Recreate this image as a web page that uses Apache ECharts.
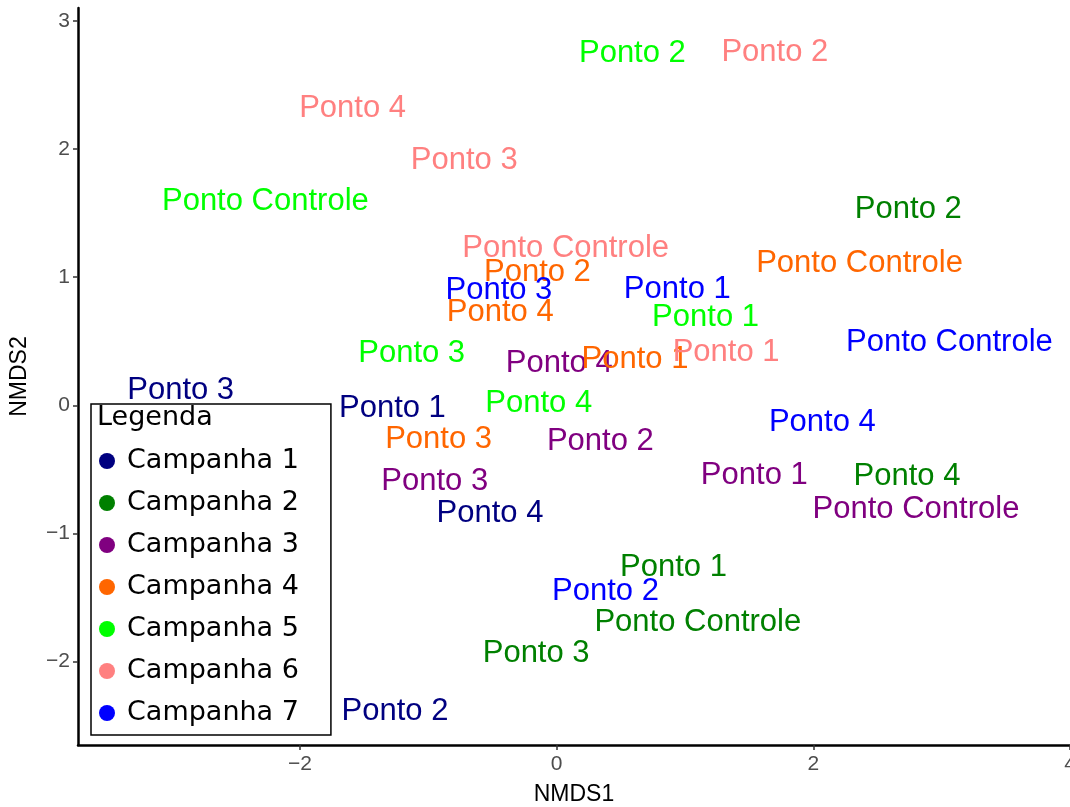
<!DOCTYPE html>
<html>
<head>
<meta charset="utf-8">
<script src="https://cdn.jsdelivr.net/npm/echarts@6/dist/echarts.min.js"></script>
<style>
  html, body { margin: 0; padding: 0; background: #fff; }
  #chart { width: 1070px; height: 807px; }
</style>
</head>
<body>
<div id="chart"></div>
<script>
// NMDS scores, one small list per campaign: [label, NMDS1, NMDS2]
var campanhas = ['Campanha 1', 'Campanha 2', 'Campanha 3', 'Campanha 4', 'Campanha 5', 'Campanha 6', 'Campanha 7'];
var cores = ['#000080', '#008000', '#800080', '#FF6600', '#00FF00', '#FF8080', '#0000FF'];

var camp1 = [['Ponto 3', -2.93, 0.13], ['Ponto 1', -1.28, -0.01], ['Ponto 4', -0.52, -0.83], ['Ponto 2', -1.26, -2.37]];
var camp2 = [['Ponto 2', 2.74, 1.54], ['Ponto 4', 2.73, -0.54], ['Ponto 1', 0.91, -1.25], ['Ponto Controle', 1.10, -1.68], ['Ponto 3', -0.16, -1.92]];
var camp3 = [['Ponto 4', 0.02, 0.34], ['Ponto 2', 0.34, -0.27], ['Ponto 1', 1.54, -0.53], ['Ponto Controle', 2.80, -0.80], ['Ponto 3', -0.95, -0.58]];
var camp4 = [['Ponto 2', -0.15, 1.05], ['Ponto 4', -0.44, 0.74], ['Ponto 1', 0.61, 0.37], ['Ponto Controle', 2.36, 1.12], ['Ponto 3', -0.92, -0.25]];
var camp5 = [['Ponto 2', 0.59, 2.76], ['Ponto Controle', -2.27, 1.61], ['Ponto 3', -1.13, 0.42], ['Ponto 1', 1.16, 0.70], ['Ponto 4', -0.14, 0.03]];
var camp6 = [['Ponto 2', 1.70, 2.77], ['Ponto 4', -1.59, 2.33], ['Ponto 3', -0.72, 1.93], ['Ponto Controle', 0.07, 1.24], ['Ponto 1', 1.32, 0.43]];
var camp7 = [['Ponto 3', -0.45, 0.91], ['Ponto 1', 0.94, 0.92], ['Ponto Controle', 3.06, 0.51], ['Ponto 4', 2.07, -0.12], ['Ponto 2', 0.38, -1.44]];

var xTicks = [-2, 0, 2, 4];
var yTicks = [-2, -1, 0, 1, 2, 3];

var pontos = [camp1, camp2, camp3, camp4, camp5, camp6, camp7];

var chart = echarts.init(document.getElementById('chart'));

var series = campanhas.map(function (nome, i) {
    return {
        name: nome,
        type: 'scatter',
        symbolSize: 0,
        itemStyle: { color: cores[i], opacity: 1 },
        label: {
            show: true,
            position: 'inside',
            offset: [0, 2],
            formatter: '{b}',
            color: cores[i],
            fontSize: 31,
            fontFamily: 'Liberation Sans, Arial, sans-serif'
        },
        emphasis: { disabled: true },
        data: pontos[i].map(function (p) { return { name: p[0], value: [p[1], p[2]] }; })
    };
});

var tickFmt = function (v) { return String(v).replace('-', '\u2212'); };

chart.setOption({
    animation: false,
    title: {
        text: 'Legenda',
        left: 97,
        top: 404,
        padding: 0,
        z: 20,
        textStyle: { fontSize: 27, fontWeight: 'normal', color: '#000', fontFamily: 'DejaVu Sans, sans-serif' }
    },
    legend: {
        orient: 'vertical',
        left: 91,
        top: 404,
        padding: [42, 32, 7, 8],
        itemGap: 12,
        itemWidth: 16,
        itemHeight: 16,
        icon: 'circle',
        backgroundColor: '#fff',
        borderColor: '#000',
        borderWidth: 1.5,
        borderRadius: 0,
        selectedMode: false,
        z: 10,
        textStyle: {
            fontSize: 27,
            lineHeight: 30,
            color: '#000',
            padding: [0, 0, 0, 7],
            fontFamily: 'DejaVu Sans, sans-serif'
        },
        data: campanhas.map(function (c, i) { return { name: c, itemStyle: { color: cores[i], opacity: 1 } }; })
    },
    grid: { left: 78, right: 0, top: 8, bottom: 62, containLabel: false, outerBoundsMode: 'none' },
    xAxis: {
        type: 'value',
        min: -3.73,
        max: 4.0,
        name: 'NMDS1',
        nameLocation: 'middle',
        nameGap: 38,
        nameTextStyle: { fontSize: 23, color: '#000', fontFamily: 'Liberation Sans, Arial, sans-serif' },
        splitLine: { show: false },
        axisLine: { show: true, onZero: false, lineStyle: { color: '#000', width: 2.5 } },
        axisTick: { show: true, length: 5, customValues: xTicks, lineStyle: { color: '#333', width: 1.5 } },
        axisLabel: {
            customValues: xTicks, formatter: tickFmt, fontSize: 21, color: '#4d4d4d', margin: 9,
            fontFamily: 'Liberation Sans, Arial, sans-serif'
        }
    },
    yAxis: {
        type: 'value',
        min: -2.65,
        max: 3.1,
        name: 'NMDS2',
        nameLocation: 'middle',
        nameRotate: 90,
        nameGap: 47,
        nameTextStyle: { fontSize: 23, color: '#000', fontFamily: 'Liberation Sans, Arial, sans-serif' },
        splitLine: { show: false },
        axisLine: { show: true, onZero: false, lineStyle: { color: '#000', width: 2.5 } },
        axisTick: { show: true, length: 5, customValues: yTicks, lineStyle: { color: '#333', width: 1.5 } },
        axisLabel: {
            customValues: yTicks, formatter: tickFmt, fontSize: 21, color: '#4d4d4d', margin: 8,
            fontFamily: 'Liberation Sans, Arial, sans-serif'
        }
    },
    series: series
});

window.addEventListener('resize', function () { chart.resize(); });
</script>
</body>
</html>
